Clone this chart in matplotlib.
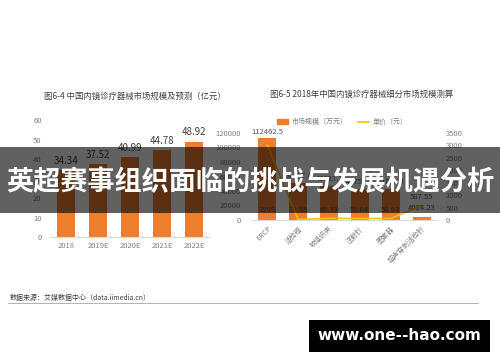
import matplotlib
matplotlib.use("Agg")
import matplotlib.pyplot as plt
from matplotlib.patches import Rectangle, Patch
from matplotlib.lines import Line2D

plt.rcParams['font.family'] = ['Noto Sans CJK SC', 'DejaVu Sans']

# left chart: market size and forecast (100M yuan)
years = ["2018", "2019E", "2020E", "2021E", "2022E"]
market = [34.34, 37.52, 40.99, 44.78, 48.92]

# right chart: 2018 segment sizes (10k yuan) and unit price (yuan)
segments = ["ERCP", "活检钳", "软组织夹", "注射针", "圈套器", "超声穿刺活检针"]
seg_size = [112462.5, 51437.4, 46917.7, 42754.3, 42720.8, 4024.23]
unit_price = [2999, 19.55, 65.33, 59.04, 58.93, 587.55]

ORANGE = "#ED7D31"
YELLOW = "#FFC000"
GREY = "#7f7f7f"
DARK = "#404040"

W, H = 500, 362
fig = plt.figure(figsize=(W / 100, H / 100), dpi=100)


def px(x0, y0, x1, y1):
    return [x0 / W, 1 - y1 / H, (x1 - x0) / W, (y1 - y0) / H]


def clean(ax):
    for s in ["top", "right", "left"]:
        ax.spines[s].set_visible(False)
    ax.spines["bottom"].set_color("#d9d9d9")
    ax.tick_params(length=0, labelsize=5.5, colors=GREY)


# ---- left chart
ax1 = fig.add_axes(px(50, 120, 210, 237))
ax1.bar(range(len(years)), market, width=0.58, color=ORANGE)
ax1.set_xlim(-0.5, len(years) - 0.5)
ax1.set_ylim(0, 60)
ax1.set_yticks(range(0, 61, 10))
ax1.set_xticks(range(len(years)))
ax1.set_xticklabels(years)
clean(ax1)
ax1.tick_params(axis="y", pad=6)
for i, v in enumerate(market):
    ax1.annotate("%.2f" % v, (i, v), xytext=(0, 3), textcoords="offset points",
                 ha="center", va="bottom", fontsize=7, color=DARK)
fig.text(135 / W, 1 - 96 / H, "图6-4 中国内镜诊疗器械市场规模及预测（亿元）",
         ha="center", va="center", fontsize=6, color=DARK)

# ---- right chart
ax2 = fig.add_axes(px(252, 133, 437, 220))
x = range(len(segments))
ax2.bar(x, seg_size, width=0.58, color=ORANGE)
ax2.set_xlim(-0.5, len(segments) - 0.5)
ax2.set_ylim(0, 120000)
ax2.set_yticks(range(0, 120001, 20000))
ax2.set_xticks(list(x))
ax2.set_xticklabels(segments, rotation=45, ha="right", rotation_mode="anchor")
clean(ax2)
ax2.tick_params(axis="y", pad=8)
ax2.tick_params(axis="x", labelsize=5)

ax3 = ax2.twinx()
ax3.plot(list(x), unit_price, color=YELLOW, lw=1.2)
ax3.set_ylim(0, 3500)
ax3.set_yticks(range(0, 3501, 500))
for s in ax3.spines.values():
    s.set_visible(False)
ax3.tick_params(length=0, labelsize=5.5, colors=GREY, pad=6)

ax2.annotate("112462.5", (0, seg_size[0]), xytext=(0, 2), textcoords="offset points",
             ha="center", va="bottom", fontsize=5.5, color="#595959")
for i in range(1, 5):
    ax2.annotate("%g" % seg_size[i], (i, seg_size[i]), xytext=(0, 2),
                 textcoords="offset points", ha="center", va="bottom",
                 fontsize=5.5, color="#595959")
    ax2.text(i, 14000, "%g" % unit_price[i], ha="center", va="center",
             fontsize=5.5, color="#595959")
ax2.text(0, 14000, "%g" % unit_price[0], ha="center", va="center",
         fontsize=5.5, color="#595959")
ax2.annotate("%g" % seg_size[5], (5, seg_size[5]), xytext=(0, 4),
             textcoords="offset points", ha="center", va="bottom",
             fontsize=5.5, color="#595959")
ax3.annotate("%g" % unit_price[5], (5, unit_price[5]), xytext=(0, 3),
             textcoords="offset points", ha="center", va="bottom",
             fontsize=5.5, color="#595959")

handles = [Patch(color=ORANGE), Line2D([0], [0], color=YELLOW, lw=1.2)]
fig.legend(handles, ["市场规模（万元）", "单价（元）"], ncol=2, frameon=False,
           fontsize=5, labelcolor=GREY, loc="center",
           bbox_to_anchor=(342 / W, 1 - 122 / H), handlelength=1.6,
           handleheight=0.6, columnspacing=1.5, handletextpad=0.5)
fig.text(362 / W, 1 - 94 / H, "图6-5 2018年中国内镜诊疗器械细分市场规模测算",
         ha="center", va="center", fontsize=6, color=DARK)

# ---- footer
fig.text(10 / W, 1 - 298 / H, "数据来源：艾媒数据中心（data.iimedia.cn）",
         ha="left", va="center", fontsize=5, color="#404040")
fig.add_artist(Line2D([8 / W, 478 / W], [1 - 303 / H, 1 - 303 / H],
                      color="#a6a6a6", lw=0.6))

# ---- overlay band with title
fig.add_artist(Rectangle((0, 1 - 213 / H), 1, 66 / H, transform=fig.transFigure,
                         facecolor="black", alpha=0.62, edgecolor="none"))
fig.text(0.5, 1 - 182 / H, "英超赛事组织面临的挑战与发展机遇分析",
         ha="center", va="center", fontsize=19.5, fontweight="bold", color="white")

# ---- watermark box
fig.add_artist(Rectangle((309 / W, 1 - 352 / H), 181 / W, 32 / H,
                         transform=fig.transFigure, facecolor="black",
                         edgecolor="none"))
fig.text(399 / W, 1 - 336 / H, "www.one--hao.com", ha="center", va="center",
         fontsize=11, fontweight="bold", color="white", family="DejaVu Sans")

fig.savefig("out.png", dpi=100)
